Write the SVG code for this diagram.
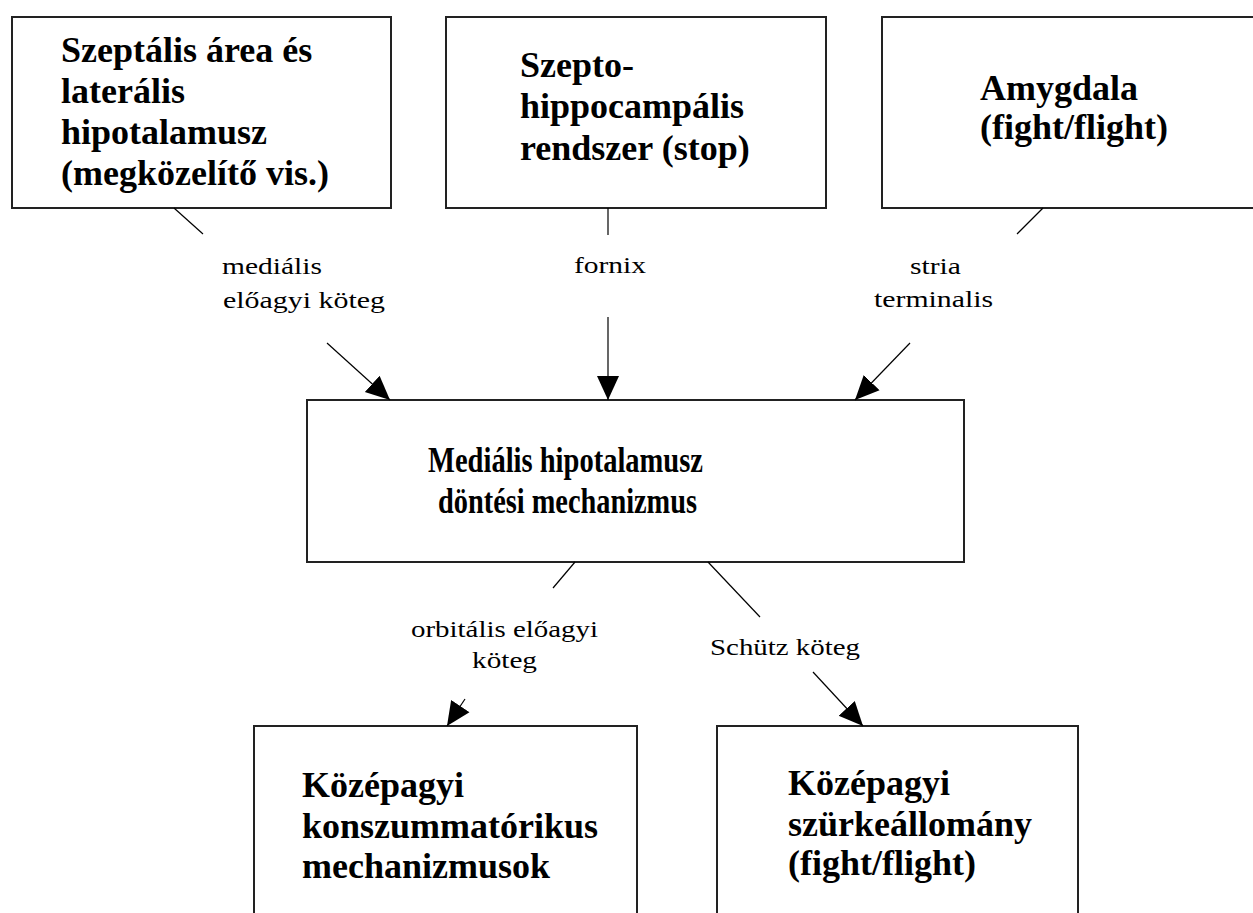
<svg xmlns="http://www.w3.org/2000/svg" width="1253" height="913" viewBox="0 0 1253 913">
<style>
.box{fill:#fff;stroke:#222;stroke-width:2}
.t{font-family:"Liberation Serif","Times New Roman",serif;font-weight:bold;font-size:36px;fill:#000}
.l{font-family:"Liberation Serif","Times New Roman",serif;font-size:24px;fill:#000}
.c{stroke:#000;stroke-width:1.2;fill:none}
</style>
<defs>
<marker id="ah" markerUnits="userSpaceOnUse" markerWidth="25" markerHeight="24" refX="24" refY="12" orient="auto" viewBox="0 0 25 24">
<path d="M0,1 L24,12 L0,23 z" fill="#000"/>
</marker>
</defs>
<rect width="1253" height="913" fill="#fff"/>
<g id="n1">
<rect class="box" x="12" y="17" width="379" height="191"/>
<text class="t" x="61" y="62">Szeptális área és</text>
<text class="t" x="61" y="103">laterális</text>
<text class="t" x="61" y="144">hipotalamusz</text>
<text class="t" x="61" y="185">(megközelítő vis.)</text>
</g>
<g id="n2">
<rect class="box" x="446" y="17" width="380" height="191"/>
<text class="t" x="520" y="77">Szepto-</text>
<text class="t" x="520" y="118">hippocampális</text>
<text class="t" x="520" y="160">rendszer (stop)</text>
</g>
<g id="n3">
<rect class="box" x="882" y="17" width="390" height="191"/>
<text class="t" x="980" y="100">Amygdala</text>
<text class="t" x="980" y="139">(fight/flight)</text>
</g>
<g id="n4">
<rect class="box" x="307" y="400" width="657" height="162"/>
<text class="t" x="428" y="472" textLength="275" lengthAdjust="spacingAndGlyphs">Mediális hipotalamusz</text>
<text class="t" x="438" y="513" textLength="259" lengthAdjust="spacingAndGlyphs">döntési mechanizmus</text>
</g>
<g id="n5">
<rect class="box" x="254" y="726" width="383" height="220"/>
<text class="t" x="302" y="797">Középagyi</text>
<text class="t" x="302" y="838">konszummatórikus</text>
<text class="t" x="302" y="878">mechanizmusok</text>
</g>
<g id="n6">
<rect class="box" x="717" y="726" width="361" height="220"/>
<text class="t" x="788" y="795">Középagyi</text>
<text class="t" x="788" y="836">szürkeállomány</text>
<text class="t" x="788" y="875">(fight/flight)</text>
</g>
<g id="connectors">
<line class="c" x1="174" y1="208" x2="203" y2="234"/>
<line class="c" x1="327" y1="343" x2="390" y2="400" marker-end="url(#ah)"/>
<line class="c" x1="608" y1="208" x2="608" y2="235"/>
<line class="c" x1="608" y1="317" x2="608" y2="400" marker-end="url(#ah)"/>
<line class="c" x1="1043" y1="208" x2="1017" y2="234"/>
<line class="c" x1="910" y1="343" x2="855" y2="400" marker-end="url(#ah)"/>
<line class="c" x1="575" y1="562" x2="553" y2="588"/>
<line class="c" x1="465" y1="699" x2="447" y2="726" marker-end="url(#ah)"/>
<line class="c" x1="708" y1="562" x2="760" y2="617"/>
<line class="c" x1="813" y1="672" x2="863" y2="726" marker-end="url(#ah)"/>
<text class="l" x="222" y="274" textLength="100" lengthAdjust="spacingAndGlyphs">mediális</text>
<text class="l" x="223" y="308" textLength="162" lengthAdjust="spacingAndGlyphs">előagyi köteg</text>
<text class="l" x="574" y="273" textLength="72" lengthAdjust="spacingAndGlyphs">fornix</text>
<text class="l" x="910" y="274" textLength="51" lengthAdjust="spacingAndGlyphs">stria</text>
<text class="l" x="874" y="307" textLength="119" lengthAdjust="spacingAndGlyphs">terminalis</text>
<text class="l" x="411" y="637" textLength="187" lengthAdjust="spacingAndGlyphs">orbitális előagyi</text>
<text class="l" x="472" y="668" textLength="65" lengthAdjust="spacingAndGlyphs">köteg</text>
<text class="l" x="710" y="655" textLength="150" lengthAdjust="spacingAndGlyphs">Schütz köteg</text>
</g>
</svg>
